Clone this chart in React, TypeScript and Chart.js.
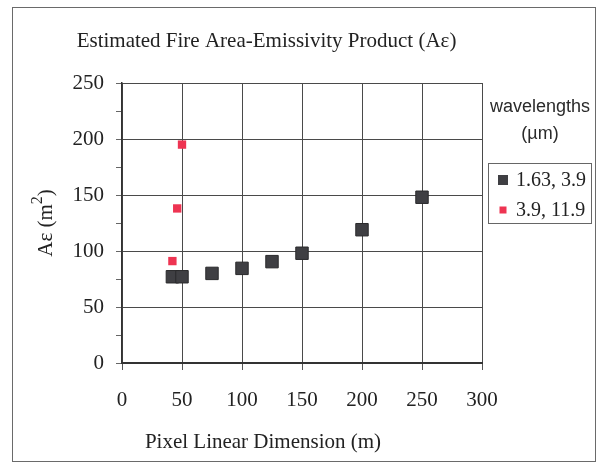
import React, { useEffect, useRef } from "react";
import { Chart, registerables } from "chart.js";

Chart.register(...registerables);

const titleText = "Estimated Fire Area-Emissivity Product (A\u03b5)";
const xTitle = "Pixel Linear Dimension (m)";
const yTitleParts = ["A\u03b5 (m", "2", ")"];
const legendTitle = ["wavelengths", "(\u00b5m)"];

const seriesLabels = ["1.63, 3.9", "3.9, 11.9"];
const pixelDimsA = [42, 50, 75, 100, 125, 150, 200, 250];
const aeA = [77, 77, 80, 84.5, 90.5, 98, 119, 148];
const pixelDimsB = [42, 46, 50];
const aeB = [91, 138, 195];

const xTicks = [0, 50, 100, 150, 200, 250, 300];
const yTicks = [0, 50, 100, 150, 200, 250];

const SERIF = "'Liberation Serif', 'Times New Roman', serif";
const SANS = "'Liberation Sans', Arial, sans-serif";

const COLOR_A = "#3f3f43";
const COLOR_A_BORDER = "#2a2a2c";
const COLOR_B = "#ee3452";

const decorPlugin = {
  id: "decor",
  beforeDraw(chart: any) {
    const ctx = chart.ctx;
    ctx.save();
    ctx.fillStyle = "#ffffff";
    ctx.fillRect(0, 0, chart.width, chart.height);
    ctx.restore();
  },
  afterDraw(chart: any) {
    const ctx = chart.ctx;
    ctx.save();
    // outer frame
    ctx.strokeStyle = "#6a6a6a";
    ctx.lineWidth = 1;
    ctx.strokeRect(12.5, 7.5, 583, 454);

    // chart title and x axis title
    ctx.fillStyle = "#222222";
    ctx.font = "21px " + SERIF;
    ctx.textAlign = "center";
    ctx.textBaseline = "middle";
    ctx.fillText(titleText, 266.5, 41);
    ctx.fillText(xTitle, 263, 442);

    // y axis title with superscript, rotated
    const area = chart.chartArea;
    const cy = (area.top + area.bottom) / 2;
    ctx.save();
    ctx.translate(45, cy);
    ctx.rotate(-Math.PI / 2);
    ctx.textAlign = "left";
    ctx.textBaseline = "alphabetic";
    const big = "21px " + SERIF;
    const small = "16px " + SERIF;
    ctx.font = big;
    const w0 = ctx.measureText(yTitleParts[0]).width;
    const w2 = ctx.measureText(yTitleParts[2]).width;
    ctx.font = small;
    const w1 = ctx.measureText(yTitleParts[1]).width;
    const total = w0 + w1 + w2;
    let x = -total / 2;
    const base = 7;
    ctx.font = big;
    ctx.fillText(yTitleParts[0], x, base);
    x += w0;
    ctx.font = small;
    ctx.fillText(yTitleParts[1], x, base - 10);
    x += w1;
    ctx.font = big;
    ctx.fillText(yTitleParts[2], x, base);
    ctx.restore();

    // legend title
    ctx.fillStyle = "#2a2a2a";
    ctx.font = "18px " + SANS;
    ctx.textAlign = "center";
    ctx.textBaseline = "middle";
    ctx.fillText(legendTitle[0], 540, 107);
    ctx.fillText(legendTitle[1], 540, 134);

    // legend box
    ctx.strokeStyle = "#666666";
    ctx.strokeRect(488.5, 163.5, 103, 60);

    const ds = chart.data.datasets;
    const rows = [180, 210];
    const sizes = [10, 7];
    ctx.textAlign = "left";
    ctx.font = "20px " + SERIF;
    ds.forEach((d: any, i: number) => {
      const ry = rows[i];
      const s = sizes[i];
      const cx = 503;
      ctx.fillStyle = d.backgroundColor;
      ctx.fillRect(cx - s / 2, ry - s / 2, s, s);
      ctx.fillStyle = "#222222";
      ctx.fillText(d.label, 516, ry + 1);
    });
    ctx.restore();
  },
};

export default function App() {
  const ref = useRef<HTMLCanvasElement | null>(null);

  useEffect(() => {
    if (!ref.current) return;
    const chart = new Chart(ref.current, {
      type: "scatter",
      data: {
        datasets: [
          {
            label: seriesLabels[0],
            data: pixelDimsA.map((x, i) => ({ x, y: aeA[i] })),
            backgroundColor: COLOR_A,
            borderColor: COLOR_A_BORDER,
            borderWidth: 1,
            pointStyle: "rect",
            pointRadius: 8.8,
            pointHoverRadius: 8.8,
          },
          {
            label: seriesLabels[1],
            data: pixelDimsB.map((x, i) => ({ x, y: aeB[i] })),
            backgroundColor: COLOR_B,
            borderColor: COLOR_B,
            borderWidth: 0,
            pointStyle: "rect",
            pointRadius: 5.9,
            pointHoverRadius: 5.9,
          },
        ],
      },
      options: {
        animation: false,
        responsive: false,
        events: [],
        layout: { padding: { left: 12, right: 117, top: 83, bottom: 0 } },
        plugins: {
          legend: { display: false },
          tooltip: { enabled: false },
          title: { display: false },
        },
        scales: {
          x: {
            type: "linear",
            min: xTicks[0],
            max: xTicks[xTicks.length - 1],
            afterBuildTicks: (scale: any) => {
              scale.ticks = xTicks.map((v) => ({ value: v }));
            },
            afterFit: (scale: any) => {
              scale.height = 101;
            },
            ticks: {
              color: "#222222",
              font: { family: SERIF, size: 21 },
              padding: 18,
              autoSkip: false,
              maxRotation: 0,
            },
            grid: {
              color: "#4a4a4a",
              lineWidth: 1,
              tickColor: "#555555",
              tickLength: 7,
            },
            border: { color: "#333333", width: 2 },
            title: { display: false },
          },
          y: {
            type: "linear",
            min: yTicks[0],
            max: yTicks[yTicks.length - 1],
            afterBuildTicks: (scale: any) => {
              const t: any[] = [];
              for (let i = 0; i < yTicks.length; i++) {
                t.push({ value: yTicks[i] });
                if (i < yTicks.length - 1) t.push({ value: (yTicks[i] + yTicks[i + 1]) / 2 });
              }
              scale.ticks = t;
            },
            afterFit: (scale: any) => {
              scale.width = 110;
            },
            ticks: {
              color: "#222222",
              font: { family: SERIF, size: 21 },
              padding: 12,
              autoSkip: false,
              callback: (v: any) => (yTicks.includes(Number(v)) ? String(v) : ""),
            },
            grid: {
              color: (c: any) => (c.tick && yTicks.includes(c.tick.value) ? "#4a4a4a" : "rgba(0,0,0,0)"),
              lineWidth: 1,
              tickColor: "#666666",
              tickLength: 6,
            },
            border: { color: "#333333", width: 1.5 },
            title: { display: false },
          },
        },
      },
      plugins: [decorPlugin],
    } as any);
    return () => chart.destroy();
  }, []);

  return (
    <div style={{ position: "fixed", left: 0, top: 0, width: 599, height: 464, background: "#fff" }}>
      <canvas ref={ref} width={599} height={464} style={{ display: "block" }} />
    </div>
  );
}
